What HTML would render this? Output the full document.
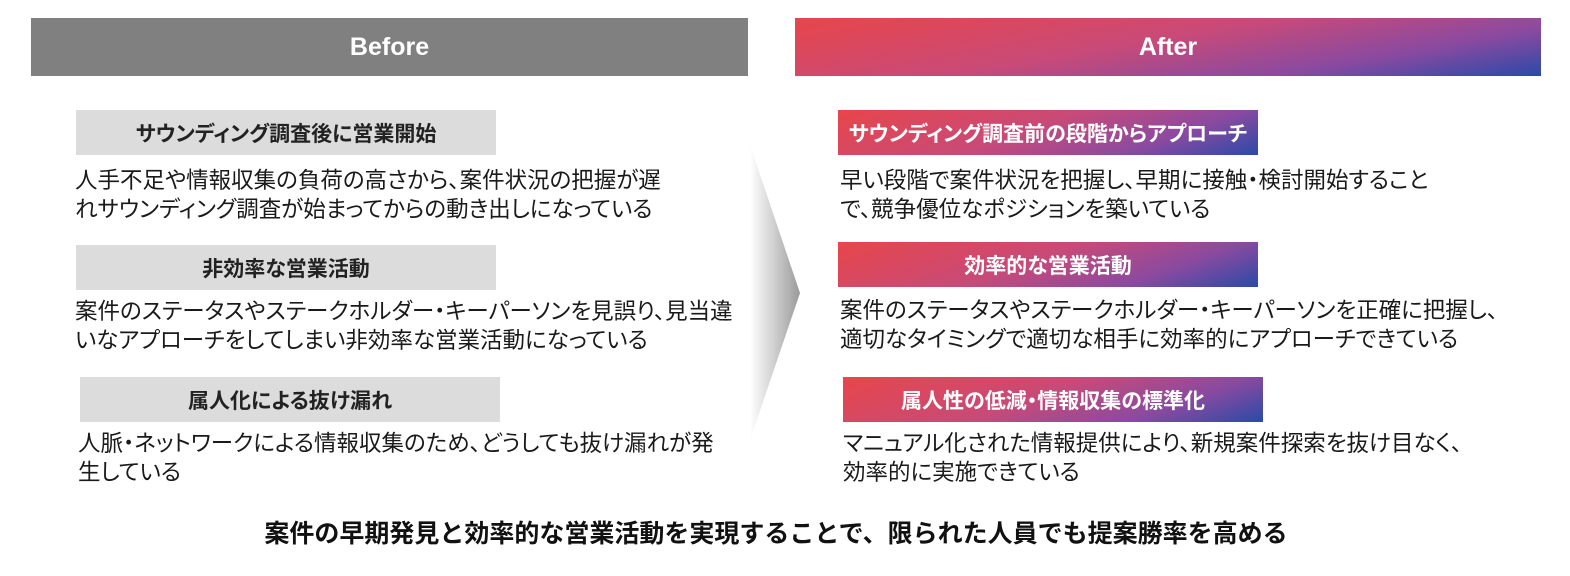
<!DOCTYPE html>
<html><head><meta charset="utf-8"><style>
*{margin:0;padding:0;box-sizing:border-box}
body{width:1570px;height:576px;background:#fff;position:relative;overflow:hidden;font-family:"Liberation Sans","Noto Sans CJK JP",sans-serif;color:#1a1a1a}
.a{position:absolute}
.hdr{top:18px;height:58px;color:#fff;font-size:25px;font-weight:bold;display:flex;align-items:center;justify-content:center}
.gb{background:#dcdcdc;height:45px;width:420px;font-size:21px;font-weight:bold;display:flex;align-items:center;justify-content:center;color:#222;font-feature-settings:"palt"}
.cb{background:linear-gradient(160deg,#e8464a 0%,#c84a78 45%,#8a4aa0 75%,#2a4aa8 100%);height:45px;width:420px;font-size:21px;font-weight:bold;display:flex;align-items:center;justify-content:center;color:#fff;font-feature-settings:"palt"}
.t{font-size:22.5px;line-height:29px;white-space:nowrap;font-feature-settings:"palt"}
</style></head><body>
<div class="a hdr" style="left:31px;width:717px;background:#808080">Before</div>
<div class="a hdr" style="left:795px;width:746px;background:linear-gradient(170deg,#e8464a 0%,#c84a78 45%,#8a4aa0 75%,#2a4aa8 100%)">After</div>

<svg class="a" style="left:745px;top:140px" width="60" height="305"><defs><linearGradient id="g" x1="0" x2="1"><stop offset="0" stop-color="#fff"/><stop offset="1" stop-color="#9a9a9a"/></linearGradient></defs><polygon points="5,5 55,153 5,300" fill="url(#g)"/></svg>

<div class="a gb" style="left:76px;top:110px">サウンディング調査後に営業開始</div>
<div class="a t" style="left:75px;top:166px">人手不足や情報収集の負荷の高さから、案件状況の把握が遅<br>れサウンディング調査が始まってからの動き出しになっている</div>
<div class="a gb" style="left:76px;top:245px">非効率な営業活動</div>
<div class="a t" style="left:75px;top:297px">案件のステータスやステークホルダー・キーパーソンを見誤り、見当違<br>いなアプローチをしてしまい非効率な営業活動になっている</div>
<div class="a gb" style="left:80px;top:377px">属人化による抜け漏れ</div>
<div class="a t" style="left:78px;top:429px">人脈・ネットワークによる情報収集のため、どうしても抜け漏れが発<br>生している</div>

<div class="a cb" style="left:838px;top:110px">サウンディング調査前の段階からアプローチ</div>
<div class="a t" style="left:840px;top:166px">早い段階で案件状況を把握し、早期に接触・検討開始すること<br>で、競争優位なポジションを築いている</div>
<div class="a cb" style="left:838px;top:242px">効率的な営業活動</div>
<div class="a t" style="left:840px;top:296px">案件のステータスやステークホルダー・キーパーソンを正確に把握し、<br>適切なタイミングで適切な相手に効率的にアプローチできている</div>
<div class="a cb" style="left:843px;top:377px">属人性の低減・情報収集の標準化</div>
<div class="a t" style="left:843px;top:429px">マニュアル化された情報提供により、新規案件探索を抜け目なく、<br>効率的に実施できている</div>

<div class="a" style="left:0;width:1552px;top:514px;text-align:center;font-size:25px;font-weight:bold;color:#111;white-space:nowrap">案件の早期発見と効率的な営業活動を実現することで、限られた人員でも提案勝率を高める</div>
</body></html>
